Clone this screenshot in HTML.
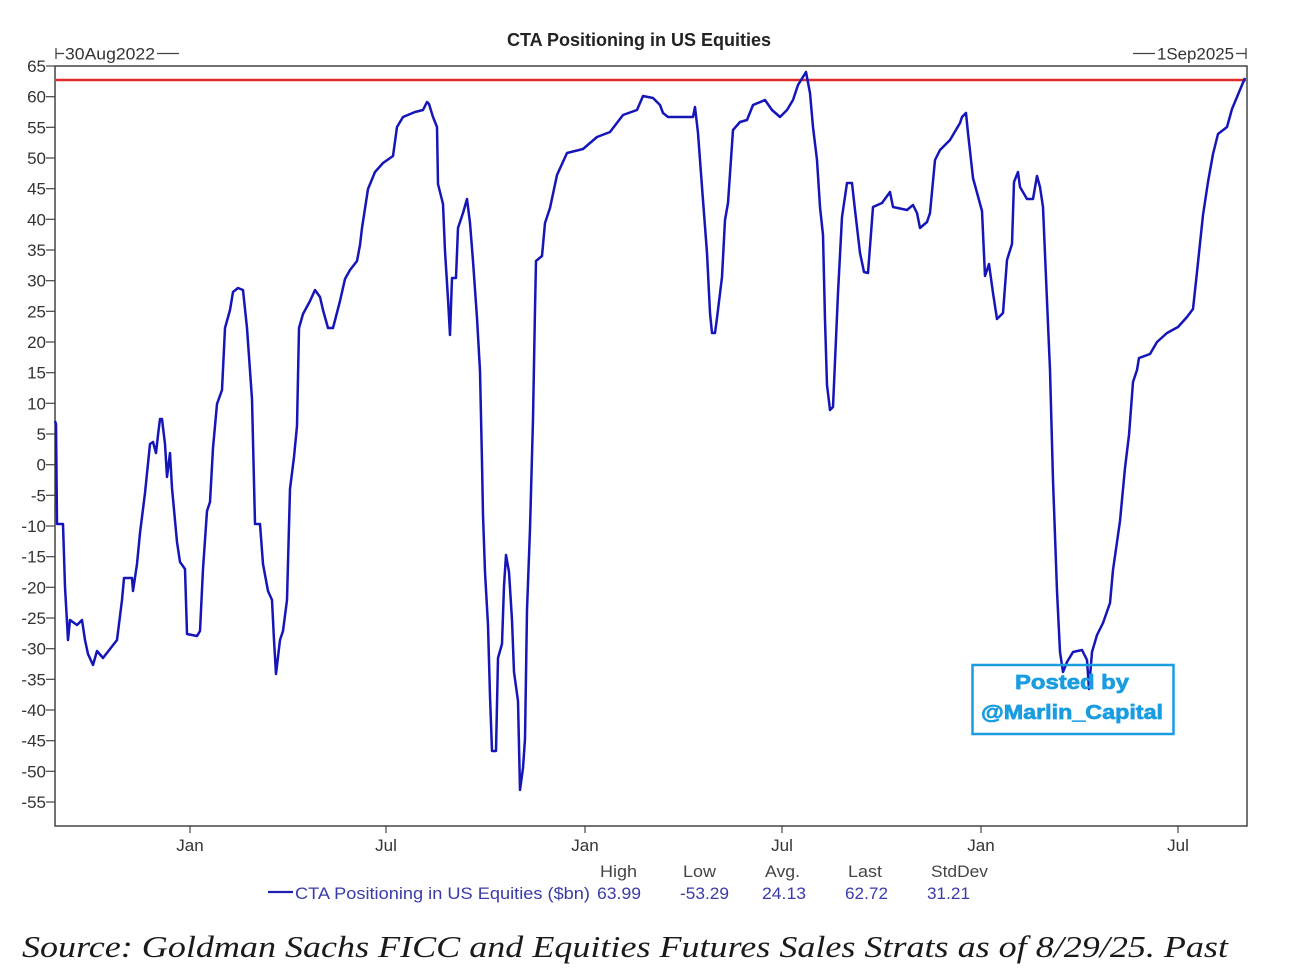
<!DOCTYPE html>
<html><head><meta charset="utf-8"><style>
html,body{margin:0;padding:0;background:#fff;}
svg{display:block;}
</style></head><body>
<svg width="1290" height="972" viewBox="0 0 1290 972" xmlns="http://www.w3.org/2000/svg">
<rect width="1290" height="972" fill="#fff"/>
<!-- title -->
<text x="639" y="46" text-anchor="middle" font-family="Liberation Sans, sans-serif" font-weight="bold" font-size="18" fill="#222">CTA Positioning in US Equities</text>
<!-- date range labels -->
<g stroke="#444" stroke-width="1.3">
<line x1="56" y1="48" x2="56" y2="59"/><line x1="56" y1="53.5" x2="64" y2="53.5"/><line x1="157" y1="53.5" x2="179" y2="53.5"/>
<line x1="1246" y1="48" x2="1246" y2="59"/><line x1="1236" y1="53.5" x2="1246" y2="53.5"/><line x1="1133" y1="53.5" x2="1155" y2="53.5"/>
</g>
<g font-family="Liberation Sans, sans-serif" font-size="17" fill="#333">
<text x="65" y="59.5" textLength="90" lengthAdjust="spacingAndGlyphs">30Aug2022</text>
<text x="1157" y="59.5" textLength="77" lengthAdjust="spacingAndGlyphs">1Sep2025</text>
</g>
<!-- y ticks -->
<g stroke="#444" stroke-width="1.2">
<line x1="46" y1="66" x2="55" y2="66"/><line x1="46" y1="96.7" x2="55" y2="96.7"/><line x1="46" y1="127.3" x2="55" y2="127.3"/><line x1="46" y1="158" x2="55" y2="158"/><line x1="46" y1="188.7" x2="55" y2="188.7"/><line x1="46" y1="219.3" x2="55" y2="219.3"/><line x1="46" y1="250" x2="55" y2="250"/><line x1="46" y1="280.7" x2="55" y2="280.7"/><line x1="46" y1="311.3" x2="55" y2="311.3"/><line x1="46" y1="342" x2="55" y2="342"/><line x1="46" y1="372.7" x2="55" y2="372.7"/><line x1="46" y1="403.3" x2="55" y2="403.3"/><line x1="46" y1="434" x2="55" y2="434"/><line x1="46" y1="464.7" x2="55" y2="464.7"/><line x1="46" y1="495.3" x2="55" y2="495.3"/><line x1="46" y1="526" x2="55" y2="526"/><line x1="46" y1="556.7" x2="55" y2="556.7"/><line x1="46" y1="587.3" x2="55" y2="587.3"/><line x1="46" y1="618" x2="55" y2="618"/><line x1="46" y1="648.7" x2="55" y2="648.7"/><line x1="46" y1="679.3" x2="55" y2="679.3"/><line x1="46" y1="710" x2="55" y2="710"/><line x1="46" y1="740.7" x2="55" y2="740.7"/><line x1="46" y1="771.3" x2="55" y2="771.3"/><line x1="46" y1="802" x2="55" y2="802"/>
<line x1="190" y1="826" x2="190" y2="833"/><line x1="386" y1="826" x2="386" y2="833"/><line x1="585" y1="826" x2="585" y2="833"/><line x1="782" y1="826" x2="782" y2="833"/><line x1="981" y1="826" x2="981" y2="833"/><line x1="1178" y1="826" x2="1178" y2="833"/>
</g>
<g font-family="Liberation Sans, sans-serif" font-size="17" fill="#333" text-anchor="end">
<text x="46" y="72">65</text><text x="46" y="102.7">60</text><text x="46" y="133.3">55</text><text x="46" y="164">50</text><text x="46" y="194.7">45</text><text x="46" y="225.3">40</text><text x="46" y="256">35</text><text x="46" y="286.7">30</text><text x="46" y="317.3">25</text><text x="46" y="348">20</text><text x="46" y="378.7">15</text><text x="46" y="409.3">10</text><text x="46" y="440">5</text><text x="46" y="470.7">0</text><text x="46" y="501.3">-5</text><text x="46" y="532">-10</text><text x="46" y="562.7">-15</text><text x="46" y="593.3">-20</text><text x="46" y="624">-25</text><text x="46" y="654.7">-30</text><text x="46" y="685.3">-35</text><text x="46" y="716">-40</text><text x="46" y="746.7">-45</text><text x="46" y="777.3">-50</text><text x="46" y="808">-55</text>
</g>
<g font-family="Liberation Sans, sans-serif" font-size="17" fill="#333" text-anchor="middle">
<text x="190" y="851">Jan</text><text x="386" y="851">Jul</text><text x="585" y="851">Jan</text><text x="782" y="851">Jul</text><text x="981" y="851">Jan</text><text x="1178" y="851">Jul</text>
</g>
<!-- frame -->
<rect x="55" y="66" width="1192" height="760" fill="none" stroke="#444" stroke-width="1.5"/>
<!-- red line -->
<line x1="56" y1="80" x2="1246" y2="80" stroke="#e02a2a" stroke-width="2.6"/>
<!-- series -->
<polyline fill="none" stroke="#1515b8" stroke-width="2.5" stroke-linejoin="round" points="
55,421 56,424 57,524 63,524 65,587 67,622 68,640 70,620 77,625 82,620 85,640 88,654 93,665 97,651 103,658 110,649 117,640 122,600 124,578 132,578 133,591 137,564 140,533 145,493 150,444 153,442 156,453 158,435 160,419 162,419 165,444 167,477 170,453 172,488 177,542 180,562 185,569 187,634 197,636 200,631 203,569 207,511 210,502 213,448 217,404 222,390 225,328 230,310 233,292 238,288 243,290 247,328 252,399 255,524 260,524 263,564 268,591 272,600 274,640 276,674 280,640 283,631 287,600 290,489 294,457 297,426 299,328 303,314 310,301 315,290 320,297 323,310 328,328 333,328 340,301 345,279 350,270 357,261 360,245
362,228 368,189 375,172 383,163 393,156 397,127 403,117 415,112 423,110 427,102 429,104 433,117 437,127 438,184 443,204 445,251 448,299 450,335 452,278 456,278 458,228 463,213 467,199 470,223 473,261 477,318 480,371 482,462 483,515 485,572 488,625 490,696 492,751 496,751 498,658 502,644 504,586 506,555 509,572 512,620 514,672 518,701 520,790 523,768 525,739 527,610 530,529 533,419 535,309 536,261 542,256 545,223 550,208 557,175 567,153 583,149 597,137 610,132 623,115 637,110 643,96 653,98 660,105
663,113 668,117 680,117 693,117 695,107 698,133 702,187 707,253 710,313 712,333 715,333 717,318 722,277 725,220 728,203 733,130 740,122 747,120 753,105 765,100 772,110 780,117 787,110 793,100 798,85 806,72 810,93 813,127 817,160 820,207 823,235 825,320 827,385 830,410 833,407 838,293 842,217 847,183 852,183 855,210 860,253 864,272 868,273 873,207 882,203 890,192 893,207 907,210 913,205 917,213 920,228 927,222 930,213 935,160 940,150 950,140 960,123
962,117 966,113 968,133 973,178 982,211 985,276 989,264 993,293 997,319 1003,313 1007,260 1012,244 1014,182 1018,172 1020,187 1027,199 1033,199 1037,176 1040,187 1043,207 1047,301 1050,370 1053,480 1057,591 1060,652 1063,672 1067,662 1073,652 1082,650 1087,660 1089,689 1092,652 1097,635 1103,623 1110,603 1113,570 1120,521 1125,468 1129,435 1133,382 1137,370 1139,358 1150,354 1157,342 1167,333 1178,327 1187,317 1193,309 1197,272 1203,215 1208,182 1213,154 1218,134 1227,127 1232,109 1237,97 1242,85 1245,78"/>
<!-- posted by box -->
<rect x="972.5" y="665" width="201" height="69" fill="none" stroke="#1a9de0" stroke-width="2.5"/>
<g font-family="Liberation Sans, sans-serif" font-weight="bold" font-size="20" fill="#1a9de0" stroke="#1a9de0" stroke-width="0.7" text-anchor="middle">
<text x="1072" y="689" textLength="114" lengthAdjust="spacingAndGlyphs">Posted by</text>
<text x="1072" y="719" textLength="182" lengthAdjust="spacingAndGlyphs">@Marlin_Capital</text>
</g>
<!-- legend -->
<line x1="268" y1="892" x2="293" y2="892" stroke="#2020b0" stroke-width="2.2"/>
<g font-family="Liberation Sans, sans-serif" font-size="17" fill="#444">
<text x="600" y="877" textLength="37" lengthAdjust="spacingAndGlyphs">High</text>
<text x="683" y="877" textLength="33" lengthAdjust="spacingAndGlyphs">Low</text>
<text x="765" y="877" textLength="35" lengthAdjust="spacingAndGlyphs">Avg.</text>
<text x="848" y="877" textLength="34" lengthAdjust="spacingAndGlyphs">Last</text>
<text x="931" y="877" textLength="57" lengthAdjust="spacingAndGlyphs">StdDev</text>
</g>
<g font-family="Liberation Sans, sans-serif" font-size="17" fill="#3a3aa8">
<text x="295" y="899" textLength="295" lengthAdjust="spacingAndGlyphs">CTA Positioning in US Equities ($bn)</text>
<text x="597" y="899" textLength="44" lengthAdjust="spacingAndGlyphs">63.99</text>
<text x="680" y="899" textLength="49" lengthAdjust="spacingAndGlyphs">-53.29</text>
<text x="762" y="899" textLength="44" lengthAdjust="spacingAndGlyphs">24.13</text>
<text x="845" y="899" textLength="43" lengthAdjust="spacingAndGlyphs">62.72</text>
<text x="927" y="899" textLength="43" lengthAdjust="spacingAndGlyphs">31.21</text>
</g>
<!-- source -->
<text x="22" y="957" font-family="Liberation Serif, serif" font-style="italic" font-size="31" fill="#1a1a1a" textLength="1206" lengthAdjust="spacingAndGlyphs">Source: Goldman Sachs FICC and Equities Futures Sales Strats as of 8/29/25. Past</text>
</svg>
</body></html>
